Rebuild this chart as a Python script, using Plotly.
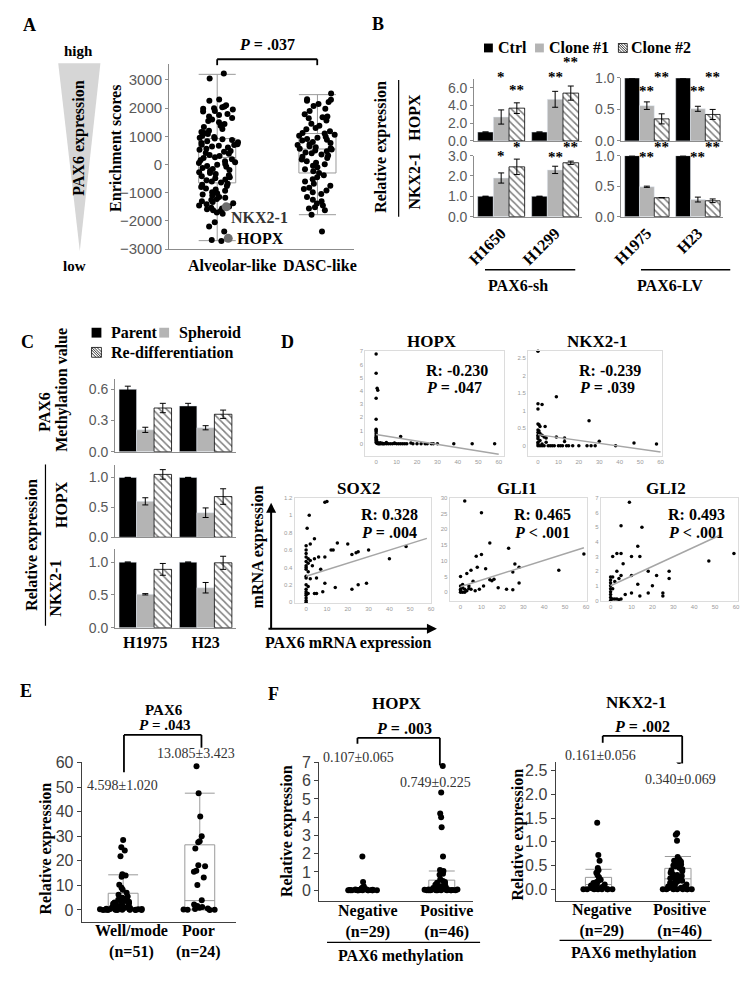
import plotly.graph_objects as go

# The page keeps the browser's default 8px body margin, so the figure is sized to
# fill the 756x984 window exactly; all target positions below are window pixels.
W, H = 756, 984
PAD = 8
FW, FH = W - 2 * PAD, H - 2 * PAD
SERIF = "Liberation Serif"
SANS = "Liberation Sans"
TICK = "#595959"
AXC = "#8c8c8c"
GRAY = "#b4b4b4"

# ================= DATA =================
# ---- Panel A: enrichment scores ----
A_groups = ["Alveolar-like", "DASC-like"]
A_alveolar = [3230, 3050, 2310, 2260, 2100, 2060, 2030, 2000, 1980, 1950, 1900, 1880, 1790, 1760,
              1700, 1650, 1600, 1540, 1500, 1440, 1380, 1330, 1260, 1200, 1150, 1120, 1080, 1020,
              980, 950, 920, 900, 870, 830, 790, 760, 720, 700, 690, 670, 640, 600, 560, 520, 480,
              450, 410, 380, 340, 300, 260, 230, 190, 150, 120, 80, 50, 20, -10, -50, -80, -120,
              -160, -190, -230, -270, -300, -340, -380, -420, -450, -490, -530, -560, -600, -640,
              -680, -720, -760, -800, -850, -890, -930, -980, -1020, -1060, -1100, -1150, -1180,
              -1220, -1260, -1300, -1330, -1370, -1410, -1450, -1490, -1530, -1560, -1590, -1620,
              -1650, -1700, -1750, -2050, -2200, -2380, -2680, -2710]
A_dasc = [2520, 2320, 2300, 2260, 2220, 2150, 2080, 1980, 1900, 1780, 1700, 1680, 1640, 1560,
          1450, 1380, 1300, 1250, 1180, 1120, 1100, 1060, 1020, 990, 950, 910, 880, 850, 800, 760,
          720, 690, 650, 610, 580, 560, 530, 500, 470, 430, 400, 360, 320, 280, 230, 180, 120, 60,
          10, -40, -100, -170, -240, -300, -380, -450, -520, -600, -680, -750, -820, -870, -920,
          -980, -1050, -1150, -1250, -1300, -1380, -1450, -1520, -1560, -1620, -1780, -2380]
A_q1 = [-650, -300]
A_med = [250, 550]
A_q3 = [920, 1100]
A_lo = [-2700, -1780]
A_hi = [3200, 2480]
A_genes = ["NKX2-1", "HOPX"]
A_gene_scores = [-1500, -2620]
A_p = ".037"

# ---- Panel B: knockdown / overexpression ----
B_series = ["Ctrl", "Clone #1", "Clone #2"]
B_cells_sh = ["H1650", "H1299"]
B_cells_lv = ["H1975", "H23"]
B_hopx_sh = [[1.0, 1.0], [2.7, 4.7], [3.7, 5.4]]
B_hopx_sh_err = [[0, 0], [0.8, 0.9], [0.6, 0.8]]
B_nkx_sh = [[1.0, 1.0], [1.9, 2.3], [2.45, 2.65]]
B_nkx_sh_err = [[0, 0], [0.25, 0.18], [0.38, 0.08]]
B_hopx_lv = [[1.0, 1.0], [0.56, 0.51], [0.35, 0.42]]
B_hopx_lv_err = [[0, 0], [0.06, 0.04], [0.08, 0.08]]
B_nkx_lv = [[1.0, 1.0], [0.49, 0.28], [0.31, 0.26]]
B_nkx_lv_err = [[0, 0], [0.01, 0.04], [None, 0.03]]
B_hopx_sh_sig = [["", ""], ["*", "**"], ["**", "**"]]
B_hopx_sh_sig_y = [[0, 0], [7.2, 7.2], [5.7, 8.9]]
B_nkx_sh_sig = [["", ""], ["*", "**"], ["*", "**"]]
B_nkx_sh_sig_y = [[0, 0], [3.0, 2.95], [3.43, 3.43]]
B_hopx_lv_sig = [["", ""], ["**", "**"], ["**", "**"]]
B_hopx_lv_sig_y = [[0, 0], [0.8, 0.8], [1.02, 1.02]]
B_nkx_lv_sig = [["", ""], ["**", "**"], ["**", "**"]]
B_nkx_lv_sig_y = [[0, 0], [0.98, 0.98], [1.15, 1.15]]

# ---- Panel C: spheroid ----
C_series = ["Parent", "Spheroid", "Re-differentiation"]
C_cells = ["H1975", "H23"]
C_meth = [[0.60, 0.44], [0.21, 0.23], [0.42, 0.36]]
C_meth_err = [[0.03, 0.025], [0.025, 0.02], [0.045, 0.04]]
C_hopx = [[1.0, 1.0], [0.60, 0.41], [1.05, 0.68]]
C_hopx_err = [[0, 0], [0.06, 0.08], [0.08, 0.13]]
C_nkx = [[1.0, 1.0], [0.51, 0.61], [0.89, 0.99]]
C_nkx_err = [[0, 0], [0.01, 0.08], [0.09, 0.10]]

# ---- Panel D: correlations with PAX6 mRNA (x = PAX6, y = gene) ----
D_genes = ["HOPX", "NKX2-1", "SOX2", "GLI1", "GLI2"]
D_R = ["-0.230", "-0.239", "0.328", "0.465", "0.493"]
D_P = ["= .047", "= .039", "= .004", "< .001", "< .001"]
D_hopx = [(0, 6.8), (0, 5.35), (0.5, 4.2), (0.8, 4.05), (0, 3.45), (0, 1.85), (0, 1.1), (0, 1.0),
          (0, 0.9), (0, 0.75), (0, 0.6), (0, 0.5), (0, 0.4), (0, 0.3), (0, 0.2), (0, 0.1),
          (0.3, 0.05), (0.5, 0.02), (1, 0), (1.5, 0), (2, 0), (2.5, 0.02), (3, 0), (3.5, 0),
          (4, 0), (5, 0.1), (6, 0), (7, 0), (8, 0), (9, 0.05), (10, 0), (11, 0), (12, 0.55),
          (13, 0), (14, 0), (15, 0), (17, 0.05), (18, 0), (20, 0), (22, 0), (24, 0), (25, 0),
          (27, 0), (28, 0), (30, 0), (38, 0), (47, 0), (58, 0), (0.2, 0.3), (0.4, 0.15),
          (1, 0.05), (2, 0.08), (3, 0.03), (5, 0), (9, 0.02), (12, 0)]
D_nkx = [(0, 2.7), (0, 1.2), (0, 1.05), (2, 1.18), (9, 1.4), (25, 0.72), (0, 0.62), (0.5, 0.6),
         (1, 0.55), (3.5, 0.55), (0, 0.45), (0.5, 0.42), (0, 0.38), (1, 0.35), (0, 0.3), (2, 0.3),
         (0, 0.25), (3, 0.25), (4, 0.22), (9, 0.25), (13, 0.22), (0, 0.2), (1, 0.15), (0, 0.1),
         (13, 0.12), (30, 0.13), (47, 0.08), (58, 0.05), (0, 0.05), (0, 0), (1, 0), (2, 0),
         (3, 0), (5, 0), (6, 0), (7, 0), (8, 0), (10, 0), (11, 0), (12, 0), (14, 0), (15, 0),
         (17, 0), (20, 0), (24, 0), (26, 0), (28, 0), (38, 0), (2, 0.05), (4, 0.1)]
D_sox2 = [(9, 1.15), (10, 1.16), (1.5, 1.0), (0.5, 0.85), (4, 0.73), (2, 0.67), (0, 0.65),
          (0, 0.6), (0, 0.56), (0, 0.52), (1, 0.5), (0, 0.47), (1, 0.45), (2, 0.48), (4, 0.5),
          (6, 0.52), (9, 0.52), (12, 0.6), (13, 0.6), (15, 0.68), (20, 0.67), (22, 0.55),
          (24, 0.57), (25, 0.58), (30, 0.6), (40, 0.5), (48, 0.64), (0, 0.42), (0, 0.4),
          (0, 0.38), (1, 0.35), (0, 0.3), (0, 0.28), (2, 0.27), (0, 0.2), (1, 0.18), (0, 0.15),
          (0, 0.12), (0, 0.1), (0, 0.08), (0, 0.05), (0, 0.02), (0, 0), (1, 0.1), (3, 0.42),
          (4, 0.1), (5, 0.1), (8, 0.12), (14, 0.17), (9, 0.22), (7, 0.38), (22, 0.15),
          (25, 0.2), (29, 0.22), (5, 0.28)]
D_gli1 = [(2, 29), (10, 25.3), (14, 15.7), (23, 14), (7.5, 11.5), (10, 12), (59, 12.2), (0, 5),
          (3, 6), (5, 7), (8, 8), (12, 7.5), (26, 9), (28, 8), (25, 6.5), (47, 7), (28, 3),
          (14, 4), (15, 3.7), (16, 4.2), (18, 1.5), (22, 1), (25, 0.8), (0, 2), (0, 1), (1, 1.5),
          (2, 1), (3, 0.5), (4, 1.2), (5, 1), (1, 0), (0, 0.5), (0, 0), (2, 0), (7, 0.5), (9, 1),
          (11, 2), (6, 3.5), (4, 2), (1, 2.5)]
D_gli2 = [(9, 6.7), (5, 5.1), (15, 5), (13, 3.7), (3, 3.2), (5, 3.2), (1, 3), (10, 3), (14, 3),
          (59, 3.2), (47, 2.7), (28, 2), (28, 1.5), (18, 2), (22, 1.7), (3, 2), (5, 1.7),
          (4, 1.5), (10, 1.7), (13, 1.1), (0, 1.6), (0, 1.4), (0, 1.2), (0, 1), (0, 0.8),
          (0, 0.6), (0, 0.4), (0, 0.2), (0, 0), (1, 0.1), (2, 0.1), (3, 0.1), (4, 0.05), (5, 0.1),
          (7, 0.4), (10, 0.5), (18, 0.5), (25, 0.5), (25, 0.3), (1, 0.8), (2, 1.3), (6, 2.5),
          (14, 0.3), (20, 1), (1, 1.6)]
# linear trend lines: (x start, x end, intercept, slope)
D_fit = [(0, 60, 0.70, -0.025), (0, 60, 0.32, -0.0083), (0, 58, 0.30, 0.0075),
         (0, 59, 1.8, 0.21), (0, 52, 1.0, 0.066)]

# ---- Panel E: PAX6 by differentiation ----
E_groups = ["Well/mode<br>(n=51)", "Poor<br>(n=24)"]
E_well = [28.5, 25.5, 24.2, 21.8, 14.5, 14.0, 13.5, 10.3, 9.0, 8.2, 7.0, 6.2, 5.5, 5.0, 4.6, 4.2,
          3.9, 3.6, 3.3, 3.0, 2.8, 2.5, 2.3, 2.0, 1.8, 1.6, 1.4, 1.2, 1.0, 0.9, 0.8, 0.7, 0.6, 0.5,
          0.45, 0.4, 0.35, 0.3, 0.25, 0.2, 0.15, 0.12, 0.1, 0.08, 0.05, 0.04, 0.03, 0.02, 0.01,
          0.0, 0.0]
E_poor = [58.5, 47.5, 38.0, 30.0, 28.0, 27.5, 25.0, 18.2, 17.8, 16.0, 15.5, 13.2, 10.2, 4.0, 2.2,
          1.6, 1.2, 0.9, 0.6, 0.4, 0.2, 0.1, 0.05, 0.0]
E_q1 = [0.1, 0.3]
E_med = [1.0, 3.8]
E_q3 = [6.8, 26.5]
E_lo = [0.0, 0.0]
E_hi = [14.3, 47.5]
E_mean_se = ["4.598±1.020", "13.085±3.423"]
E_p = ".043"

# ---- Panel F: by PAX6 methylation ----
F_groups = ["Negative<br>(n=29)", "Positive<br>(n=46)"]
F_hopx_neg = [1.85, 0.45, 0.2, 0.15, 0.12, 0.1, 0.08, 0.06, 0.05, 0.04, 0.03, 0.03, 0.02, 0.02,
              0.01, 0.01, 0.01, 0, 0, 0, 0, 0, 0, 0, 0, 0, 0, 0, 0]
F_hopx_pos = [6.8, 5.35, 4.2, 4.0, 3.45, 1.85, 1.1, 1.05, 0.95, 0.9, 0.85, 0.6, 0.5, 0.45, 0.4,
              0.35, 0.3, 0.25, 0.22, 0.2, 0.18, 0.15, 0.12, 0.1, 0.08, 0.07, 0.06, 0.05, 0.04,
              0.03, 0.03, 0.02, 0.02, 0.01, 0.01, 0.01, 0, 0, 0, 0, 0, 0, 0, 0, 0, 0]
F_nkx_neg = [1.4, 0.72, 0.6, 0.45, 0.4, 0.35, 0.3, 0.25, 0.2, 0.18, 0.15, 0.13, 0.12, 0.1, 0.1,
             0.08, 0.06, 0.05, 0.03, 0.02, 0.01, 0, 0, 0, 0, 0, 0, 0, 0]
F_nkx_pos = [2.7, 1.18, 1.15, 1.02, 0.68, 0.62, 0.6, 0.58, 0.55, 0.52, 0.5, 0.48, 0.45, 0.42,
             0.4, 0.38, 0.35, 0.32, 0.3, 0.28, 0.26, 0.25, 0.23, 0.22, 0.2, 0.18, 0.17, 0.15,
             0.13, 0.12, 0.1, 0.08, 0.06, 0.05, 0.04, 0.03, 0.02, 0.01, 0, 0, 0, 0, 0, 0, 0, 0]
F_hopx_q1, F_hopx_med, F_hopx_q3, F_hopx_lo, F_hopx_hi = [0.0, 0.0], [0.01, 0.1], [0.05, 0.55], [0.0, 0.0], [0.1, 1.05]
F_nkx_q1, F_nkx_med, F_nkx_q3, F_nkx_lo, F_nkx_hi = [0.0, 0.05], [0.1, 0.22], [0.25, 0.44], [0.0, 0.0], [0.42, 0.69]
F_hopx_mean_se = ["0.107±0.065", "0.749±0.225"]
F_nkx_mean_se = ["0.161±0.056", "0.340±0.069"]
F_p = [".003", ".002"]

# ================= HELPERS =================
fig = go.Figure()
axes = {}
ann = []
shapes = []


def px(x):
    return (x - PAD) / FW


def py(y):
    return 1 - (y - PAD) / FH


def make_axes(n, x0, x1, ytop, ybot, xkw, ykw):
    xs = "" if n == 1 else str(n)
    axes["xaxis" + xs] = dict(domain=[px(x0), px(x1)], anchor="y" + xs, **xkw)
    axes["yaxis" + xs] = dict(domain=[py(ybot), py(ytop)], anchor="x" + xs, **ykw)
    return "x" + xs, "y" + xs


def text(x, y, s, size=16, bold=True, color="black", angle=0, xanchor="center",
         family=SERIF, yanchor="middle"):
    if bold:
        s = "<b>" + s + "</b>"
    ann.append(dict(xref="paper", yref="paper", x=px(x), y=py(y), text=s, showarrow=False,
                    font=dict(family=family, size=size, color=color), textangle=angle,
                    xanchor=xanchor, yanchor=yanchor))


def line(x0, y0, x1, y1, color="black", width=1.5):
    shapes.append(dict(type="line", xref="paper", yref="paper", x0=px(x0), y0=py(y0),
                       x1=px(x1), y1=py(y1), line=dict(color=color, width=width)))


def rect(x0, y0, x1, y1, fill, lc=None, lw=0):
    shapes.append(dict(type="rect", xref="paper", yref="paper", x0=px(x0), y0=py(y0),
                       x1=px(x1), y1=py(y1), fillcolor=fill,
                       line=dict(color=lc or fill, width=lw)))


def hatch_square(x0, y0, s=9):
    rect(x0, y0, x0 + s, y0 + s, "white", "black", 0.8)
    path = ""
    for k in (2.5, 5.5):
        path += f"M {px(x0)},{py(y0 + k)} L {px(x0 + s - k)},{py(y0 + s)} "
        path += f"M {px(x0 + k)},{py(y0)} L {px(x0 + s)},{py(y0 + s - k)} "
    path += f"M {px(x0)},{py(y0)} L {px(x0 + s)},{py(y0 + s)}"
    shapes.append(dict(type="path", xref="paper", yref="paper", path=path,
                       line=dict(color="black", width=0.8)))


def bracket(xl, xr, ytop, yl, yr, width=1.8):
    line(xl, ytop, xr, ytop, width=width)
    line(xl, ytop, xl, yl, width=width)
    line(xr, ytop, xr, yr, width=width)


BAR_STYLES = [dict(color="black"), dict(color=GRAY),
              dict(color="white", pattern=dict(shape="\\", fgcolor="black", bgcolor="white",
                                               size=5, solidity=0.3),
                   line=dict(color="black", width=0.8))]
BARGAP = 0.13
BW = (1 - BARGAP) / 3


def bars(xr, yr, cats, series, vals, errs, rng, sig=None, sig_y=None):
    for i, (s, v, e) in enumerate(zip(series, vals, errs)):
        fig.add_trace(go.Bar(x=cats, y=v, name=s, marker=BAR_STYLES[i], showlegend=False,
                             error_y=dict(type="data", array=e, visible=True, color="black",
                                          thickness=1, width=3),
                             xaxis=xr, yaxis=yr))
        if sig:
            for j, c in enumerate(cats):
                if sig[i][j]:
                    ann.append(dict(xref=xr, yref=yr + " domain", x=j + (i - 1) * BW,
                                    y=(sig_y[i][j] - rng[0]) / (rng[1] - rng[0]),
                                    text="<b>" + sig[i][j] + "</b>", showarrow=False,
                                    yanchor="middle",
                                    font=dict(family=SERIF, size=15, color="black")))


def bar_y(rng, tickvals, fmt=".1f"):
    return dict(range=rng, tickvals=tickvals, tickformat=fmt, showline=True, linecolor=AXC,
                linewidth=1, ticks="outside", ticklen=3, tickcolor=AXC, showgrid=False,
                zeroline=False, tickfont=dict(family=SANS, size=14, color=TICK))


def bar_x(cats, labels=True, angle=0):
    d = dict(type="category", showline=True, linecolor=AXC, linewidth=1, ticks="",
             showgrid=False, zeroline=False, showticklabels=labels,
             tickvals=cats, ticktext=["<b>" + c + "</b>" for c in cats], tickangle=angle,
             tickfont=dict(family=SERIF, size=16, color="black"))
    return d


def box_stats(xr, yr, pos, q1, med, q3, lo, hi, width):
    fig.add_trace(go.Box(x=pos, q1=q1, median=med, q3=q3, lowerfence=lo, upperfence=hi,
                         width=width, whiskerwidth=1, boxpoints=False, fillcolor="white",
                         line=dict(color="#9a9a9a", width=1), showlegend=False,
                         xaxis=xr, yaxis=yr))


def box_points(xr, yr, pos, vals, width, size=6, jitter=1.0):
    fig.add_trace(go.Box(y=vals, x0=pos, width=width, boxpoints="all", jitter=jitter,
                         pointpos=0, fillcolor="rgba(0,0,0,0)",
                         line=dict(color="rgba(0,0,0,0)", width=0),
                         marker=dict(color="black", size=size), showlegend=False,
                         xaxis=xr, yaxis=yr))


def plain_y(rng, dtick, fmt=None, size=16):
    d = dict(range=rng, dtick=dtick, showline=True, linecolor="#404040", linewidth=1.2,
             ticks="outside", ticklen=4, tickcolor="#404040", showgrid=False, zeroline=False,
             tickfont=dict(family=SANS, size=size, color="#404040"))
    if fmt:
        d["tickformat"] = fmt
    return d


def plain_x(rng, color="#404040"):
    return dict(range=rng, showline=True, linecolor=color, linewidth=1.2, ticks="",
                showticklabels=False, showgrid=False, zeroline=False)


# ================= PANEL A =================
xa, ya = make_axes(1, 162, 350, 57, 245,
                   plain_x([-0.48, 1.36], AXC),
                   dict(range=[-3000, 3560], dtick=1000, showline=True, linecolor=AXC,
                        ticks="outside", ticklen=3, tickcolor=AXC, showgrid=False,
                        zeroline=False, tickfont=dict(family=SANS, size=15, color=TICK)))
box_stats(xa, ya, [0, 1], A_q1, A_med, A_q3, A_lo, A_hi, 0.37)
box_points(xa, ya, 0, A_alveolar, 0.42, size=6)
box_points(xa, ya, 1, A_dasc, 0.42, size=6)
fig.add_trace(go.Scatter(x=[0.09, 0.11], y=A_gene_scores, mode="markers",
                         marker=dict(color="#6e6e6e", size=9), showlegend=False,
                         xaxis=xa, yaxis=ya))
ann.append(dict(xref=xa, yref=ya, x=0.12, y=A_gene_scores[0], text="<b>" + A_genes[0] + "</b>",
                showarrow=False, xanchor="left", yshift=-11,
                font=dict(family=SERIF, size=16, color="#333333")))
ann.append(dict(xref=xa, yref=ya, x=0.18, y=A_gene_scores[1], text="<b>" + A_genes[1] + "</b>",
                showarrow=False, xanchor="left",
                font=dict(family=SERIF, size=16, color="black")))
text(226, 262, A_groups[0])
text(316, 262, A_groups[1])
text(108, 143, "Enrichment scores", angle=-90)
bracket(211, 313, 52, 58, 58)
text(262, 37, "<i>P</i> = " + A_p)
shapes.append(dict(type="path", xref="paper", yref="paper",
                   path=f"M {px(49)},{py(56)} L {px(92)},{py(56)} L {px(71)},{py(247)} Z",
                   fillcolor="#d6d6d6", line=dict(width=0)))
text(70, 44, "high", size=15)
text(66, 262, "low", size=15)
text(70, 132, "PAX6 expression", angle=-90)
text(20, 17, "A", size=18)

# ================= PANEL B =================
R_hs, R_lv, R_ns = [0, 7], [0, 1], [0, 3]
x2, y2 = make_axes(2, 473, 583, 72, 135, bar_x(B_cells_sh, False), bar_y(R_hs, [0, 2, 4, 6]))
x3, y3 = make_axes(3, 623, 727, 71, 135, bar_x(B_cells_lv, False), bar_y(R_lv, [0, 0.5, 1]))
x4, y4 = make_axes(4, 473, 583, 150, 212, bar_x(B_cells_sh, True, -45), bar_y(R_ns, [0, 1, 2, 3]))
x5, y5 = make_axes(5, 623, 727, 150, 212, bar_x(B_cells_lv, True, -45), bar_y(R_lv, [0, 0.5, 1]))
bars(x2, y2, B_cells_sh, B_series, B_hopx_sh, B_hopx_sh_err, R_hs, B_hopx_sh_sig, B_hopx_sh_sig_y)
bars(x3, y3, B_cells_lv, B_series, B_hopx_lv, B_hopx_lv_err, R_lv, B_hopx_lv_sig, B_hopx_lv_sig_y)
bars(x4, y4, B_cells_sh, B_series, B_nkx_sh, B_nkx_sh_err, R_ns, B_nkx_sh_sig, B_nkx_sh_sig_y)
bars(x5, y5, B_cells_lv, B_series, B_nkx_lv, B_nkx_lv_err, R_lv, B_nkx_lv_sig, B_nkx_lv_sig_y)
# legend
rect(483, 36, 492, 45, "black")
text(495, 40, B_series[0], xanchor="left")
rect(535, 36, 544, 45, GRAY)
text(547, 40, B_series[1], xanchor="left")
hatch_square(620, 36)
text(631, 40, B_series[2], xanchor="left")
text(378, 141, "Relative expression", angle=-90)
text(412, 111, "HOPX", angle=-90)
text(412, 176, "NKX2-1", angle=-90)
line(396, 73, 396, 212, width=1.2)
line(484, 266, 576, 266, width=1.5)
line(643, 266, 734, 266, width=1.5)
text(518, 282, "PAX6-sh")
text(673, 282, "PAX6-LV")
text(375, 16, "B", size=18)

# ================= PANEL C =================
x6, y6 = make_axes(6, 107, 230, 377, 451, bar_x(C_cells, False), bar_y([0, 0.7], [0, 0.3, 0.6]))
x7, y7 = make_axes(7, 107, 230, 465, 538, bar_x(C_cells, False), bar_y([0, 1.2], [0, 0.5, 1.0]))
x8, y8 = make_axes(8, 107, 230, 550, 630, bar_x(C_cells, True, 0), bar_y([0, 1.2], [0, 0.5, 1.0]))
bars(x6, y6, C_cells, C_series, C_meth, C_meth_err, [0, 0.7])
bars(x7, y7, C_cells, C_series, C_hopx, C_hopx_err, [0, 1.2])
bars(x8, y8, C_cells, C_series, C_nkx, C_nkx_err, [0, 1.2])
rect(83, 325, 93, 335, "black")
text(101, 330, C_series[0], xanchor="left")
rect(152, 325, 162, 335, GRAY)
text(170, 330, C_series[1], xanchor="left")
hatch_square(83, 345, 10)
text(101, 350, C_series[2], xanchor="left")
text(35, 410, "PAX6", angle=-90)
text(53, 388, "Methylation value", angle=-90)
text(53, 505, "HOPX", angle=-90)
text(46, 590, "NKX2-1", angle=-90)
text(22, 546, "Relative expression", angle=-90)
line(36, 464, 36, 628, width=1.2)
text(18, 339, "C", size=18)

# ================= PANEL D =================
D_sets = [D_hopx, D_nkx, D_sox2, D_gli1, D_gli2]
D_boxes = [(362, 503, 349, 455, [-5.3, 62.4], [-0.9, 7.0], 1),
           (528, 664, 349, 455, [-4.8, 60.5], [-0.28, 2.7], 0.5),
           (290, 429, 498, 605, [-5.5, 60.0], [-0.01, 1.2], 0.2),
           (448, 588, 498, 603, [-5.2, 60.5], [-2.8, 30.0], 5),
           (602, 742, 498, 603, [-4.7, 61.0], [-0.05, 7.0], 1)]
D_title_pos = [(430, 339), (598, 339), (355, 488), (517, 488), (668, 488)]
D_text_left = [(422, 368), (578, 368), (356, 515), (512, 515), (668, 515)]
for k in range(5):
    x0, x1, yt, yb, xr_, yr_, dt = D_boxes[k]
    dax = dict(range=xr_, dtick=10, showline=True, mirror=True, linecolor="#dcdcdc",
               linewidth=1, ticks="", showgrid=False, zeroline=False,
               tickfont=dict(family=SANS, size=6, color="#9a9a9a"))
    day = dict(range=yr_, dtick=dt, showline=True, mirror=True, linecolor="#dcdcdc",
               linewidth=1, ticks="", showgrid=False, zeroline=False,
               tickfont=dict(family=SANS, size=6, color="#9a9a9a"))
    xr, yr = make_axes(9 + k, x0, x1, yt, yb, dax, day)
    pts = D_sets[k]
    fig.add_trace(go.Scatter(x=[p[0] for p in pts], y=[p[1] for p in pts], mode="markers",
                             marker=dict(color="black", size=3.5), showlegend=False,
                             cliponaxis=False, xaxis=xr, yaxis=yr))
    fs, fe, b0, b1 = D_fit[k]
    fig.add_trace(go.Scatter(x=[fs, fe], y=[b0 + b1 * fs, b0 + b1 * fe], mode="lines",
                             line=dict(color="#a6a6a6", width=1.5), showlegend=False,
                             xaxis=xr, yaxis=yr))
    tx, ty = D_title_pos[k]
    text(tx, ty, D_genes[k], size=17)
    lx, ly = D_text_left[k]
    text(lx, ly, "R: " + D_R[k], size=16, xanchor="left")
    text(lx, ly + 18, "<i>P</i> " + D_P[k], size=16, xanchor="left")
ann.append(dict(xref="paper", yref="paper", x=px(266), y=py(503), ax=0, ay=128,
                axref="pixel", ayref="pixel", text="", showarrow=True, arrowhead=2,
                arrowsize=1, arrowwidth=2, arrowcolor="black"))
ann.append(dict(xref="paper", yref="paper", x=px(435), y=py(631), ax=-170, ay=0,
                axref="pixel", ayref="pixel", text="", showarrow=True, arrowhead=2,
                arrowsize=1, arrowwidth=2, arrowcolor="black"))
text(253, 548, "mRNA expression", angle=-90)
text(345, 646, "PAX6 mRNA expression")
text(283, 339, "D", size=18)

# ================= PANEL E =================
x14, y14 = make_axes(14, 73, 230, 767, 929, plain_x([-0.54, 1.47]), plain_y([-4.8, 60], 10))
box_stats(x14, y14, [0, 1.0], E_q1, E_med, E_q3, E_lo, E_hi, 0.39)
box_points(x14, y14, 0, E_well, 0.62)
box_points(x14, y14, 1.0, E_poor, 0.5)
text(124, 949, E_groups[0], size=16)
text(192, 949, E_groups[1], size=16)
text(37, 854, "Relative expression", angle=-90)
text(157, 714, "PAX6", size=15)
text(157, 729, "<i>P</i> = " + E_p, size=15)
bracket(116, 195, 739, 777, 752)
text(115, 790, E_mean_se[0], bold=False, size=14, color="#333333")
text(189, 758, E_mean_se[1], bold=False, size=14, color="#333333")
text(16, 694, "E", size=18)

# ================= PANEL F =================
x15, y15 = make_axes(15, 315, 472, 767, 908, plain_x([-0.56, 1.4]), plain_y([-0.6, 7], 1))
box_stats(x15, y15, [0, 1], F_hopx_q1, F_hopx_med, F_hopx_q3, F_hopx_lo, F_hopx_hi, 0.33)
box_points(x15, y15, 0, F_hopx_neg, 0.45)
box_points(x15, y15, 1, F_hopx_pos, 0.45)
x16, y16 = make_axes(16, 556, 713, 767, 908, plain_x([-0.54, 1.4]), plain_y([-0.25, 2.67], 0.5, ".1f"))
box_stats(x16, y16, [0, 1], F_nkx_q1, F_nkx_med, F_nkx_q3, F_nkx_lo, F_nkx_hi, 0.33)
box_points(x16, y16, 0, F_nkx_neg, 0.45)
box_points(x16, y16, 1, F_nkx_pos, 0.45)
text(365, 929, F_groups[0])
text(445, 929, F_groups[1])
text(603, 928, F_groups[0])
text(682, 928, F_groups[1])
line(323, 950, 479, 950, width=1.2)
line(560, 948, 715, 948, width=1.2)
text(398, 964, "PAX6 methylation")
text(636, 961, "PAX6 methylation")
text(282, 837, "Relative expression", angle=-90)
text(518, 840, "Relative expression", angle=-90)
text(394, 707, "HOPX", size=17)
text(638, 706, "NKX2-1", size=17)
text(401, 732, "<i>P</i> = " + F_p[0], size=16)
text(644, 730, "<i>P</i> = " + F_p[1], size=16)
bracket(354, 438, 742, 748, 770)
bracket(604, 685, 740, 747, 768)
text(355, 762, F_hopx_mean_se[0], bold=False, size=14, color="#333333")
text(434, 787, F_hopx_mean_se[1], bold=False, size=14, color="#333333")
text(602, 760, F_nkx_mean_se[0], bold=False, size=14, color="#333333")
text(683, 784, F_nkx_mean_se[1], bold=False, size=14, color="#333333")
text(268, 697, "F", size=18)

fig.update_layout(width=FW, height=FH, autosize=False, margin=dict(l=0, r=0, t=0, b=0),
                  paper_bgcolor="white", plot_bgcolor="white", showlegend=False,
                  barmode="group", bargap=BARGAP, bargroupgap=0, boxmode="overlay",
                  font=dict(family=SERIF, color="black"),
                  annotations=ann, shapes=shapes, **axes)
fig.write_html("out.html", config={"displayModeBar": False})
